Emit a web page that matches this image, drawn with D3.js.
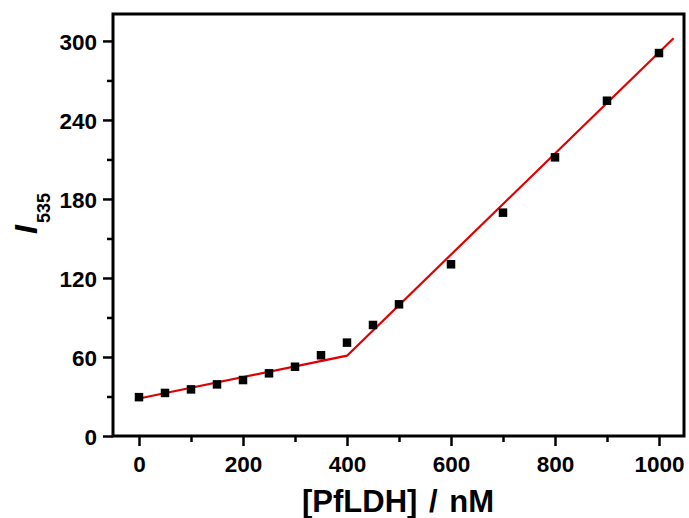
<!DOCTYPE html>
<html><head><meta charset="utf-8">
<script src="https://cdn.jsdelivr.net/npm/d3@7"></script>
<style>body{margin:0;background:#fff}svg{display:block}text{font-family:"Liberation Sans",Arial,sans-serif;font-weight:bold}</style>
</head><body><svg id="c" width="689" height="518"></svg>
<script>
const concentration = [0,50,100,150,200,250,300,350,400,450,500,600,700,800,900,1000];
const intensity = [29.5,32.7,35.4,39.2,42.5,47.6,52.6,61.3,70.9,84.3,100,130.4,169.6,211.6,254.6,290.8];
const fitX = [0,400,1028];
const fitY = [28.5,61,302];
const xTicks = [0,200,400,600,800,1000];
const xMinor = [100,300,500,700,900];
const yTicks = [0,60,120,180,240,300];
const yMinor = [30,90,150,210,270];

const svg = d3.select("#c");
const L=113,R=684,T=14,B=436;
const x = d3.scaleLinear().domain([-50,1050]).range([113,685]);
const y = d3.scaleLinear().domain([0,320]).range([436,14.6]);

// minor ticks
svg.append("g").attr("transform",`translate(0,${B})`)
  .call(d3.axisBottom(x).tickValues(xMinor).tickSize(6).tickFormat(""))
  .call(g=>{g.select(".domain").remove();g.selectAll("line").attr("stroke","#000").attr("stroke-width",2.5);});
svg.append("g").attr("transform",`translate(${L},0)`)
  .call(d3.axisLeft(y).tickValues(yMinor).tickSize(6).tickFormat(""))
  .call(g=>{g.select(".domain").remove();g.selectAll("line").attr("stroke","#000").attr("stroke-width",2.5);});
// major ticks
svg.append("g").attr("transform",`translate(0,${B})`)
  .call(d3.axisBottom(x).tickValues(xTicks).tickSize(10).tickPadding(6).tickFormat(d3.format("d")))
  .call(g=>{g.select(".domain").remove();g.selectAll("line").attr("stroke","#000").attr("stroke-width",2.5);
    g.selectAll("text").attr("fill","#000").style("font-size","22.5px").attr("dy","0.9em");});
svg.append("g").attr("transform",`translate(${L},0)`)
  .call(d3.axisLeft(y).tickValues(yTicks).tickSize(10).tickPadding(6).tickFormat(d3.format("d")))
  .call(g=>{g.select(".domain").remove();g.selectAll("line").attr("stroke","#000").attr("stroke-width",2.5);
    g.selectAll("text").attr("fill","#000").style("font-size","22.5px").attr("dy","0.36em");});

// fit line
const fit = fitX.map((d,i)=>[d,fitY[i]]);
svg.append("path").datum(fit)
  .attr("d", d3.line().x(d=>x(d[0])).y(d=>y(d[1])))
  .attr("fill","none").attr("stroke","#e00000").attr("stroke-width",2.2);

// points
const s=8.5;
svg.append("g").selectAll("rect").data(concentration).join("rect")
  .attr("x",(d)=>x(d)-s/2).attr("y",(d,i)=>y(intensity[i])-s/2)
  .attr("width",s).attr("height",s).attr("fill","#000");

// frame
svg.append("rect").attr("x",L).attr("y",T).attr("width",R-L).attr("height",B-T)
  .attr("fill","none").attr("stroke","#000").attr("stroke-width",3);

// x title
svg.append("text").attr("x",398).attr("y",512).attr("text-anchor","middle")
  .style("font-size","31px").style("word-spacing","3px").attr("fill","#000").text("[PfLDH] / nM");
// y title
const yt = svg.append("text").attr("transform","translate(37,234) rotate(-90)").attr("fill","#000");
yt.append("tspan").style("font-size","32px").style("font-style","italic").text("I");
yt.append("tspan").style("font-size","18px").attr("dy",13).attr("dx",2).text("535");
</script></body></html>
